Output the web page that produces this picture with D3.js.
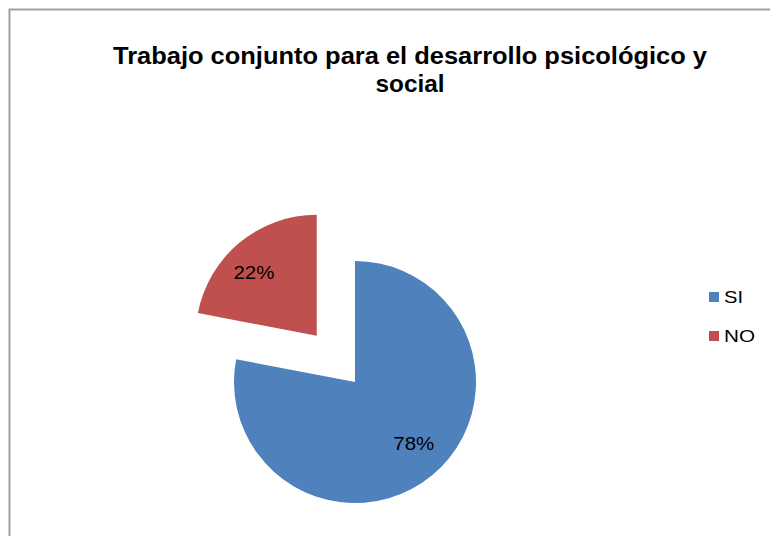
<!DOCTYPE html>
<html>
<head>
<meta charset="utf-8">
<script src="https://cdn.jsdelivr.net/npm/d3@7"></script>
<style>
  html, body { margin: 0; padding: 0; background: #fff; }
  svg { display: block; }
</style>
</head>
<body>
<svg id="chart" width="770" height="536"></svg>
<script>
const categories = ["SI", "NO"];
const values = [78, 22];
const labels = ["78%", "22%"];
const colors = ["#4F81BD", "#C0504D"];
const titleLines = ["Trabajo conjunto para el desarrollo psicológico y", "social"];

const svg = d3.select("#chart");
const font = "'Liberation Sans', Arial, sans-serif";

// chart border
svg.append("rect")
  .attr("x", 9.5).attr("y", 9.5)
  .attr("width", 800).attr("height", 600)
  .attr("fill", "none").attr("stroke", "#A0A0A0").attr("stroke-width", 2);

// title
const titleSpec = [
  { y: 64, w: 594 },
  { y: 92, w: 69 }
];
titleLines.forEach((line, i) => {
  svg.append("text")
    .attr("x", 410).attr("y", titleSpec[i].y)
    .attr("text-anchor", "middle")
    .attr("font-family", font).attr("font-weight", "bold").attr("font-size", 24)
    .attr("textLength", titleSpec[i].w).attr("lengthAdjust", "spacingAndGlyphs")
    .text(line);
});

// pie
const cx = 355, cy = 382, r = 121, explode = 60;
const pie = d3.pie().sort(null).value(d => d)(values);
const arc = d3.arc().innerRadius(0).outerRadius(r);
const labelArc = d3.arc().innerRadius(86).outerRadius(86);
const labelNudge = [[4, -5], [-8, 3]];

const g = svg.append("g").attr("transform", `translate(${cx},${cy})`);
pie.forEach((d, i) => {
  const mid = (d.startAngle + d.endAngle) / 2;
  const off = i === 1 ? explode : 0;
  const dx = Math.sin(mid) * off, dy = -Math.cos(mid) * off;
  const sg = g.append("g").attr("transform", `translate(${dx},${dy})`);
  sg.append("path").attr("d", arc(d)).attr("fill", colors[i]);
  const c = labelArc.centroid(d);
  sg.append("text")
    .attr("x", c[0] + labelNudge[i][0]).attr("y", c[1] + labelNudge[i][1])
    .attr("dy", "0.36em")
    .attr("text-anchor", "middle")
    .attr("font-family", font).attr("font-size", 18)
    .attr("textLength", 41).attr("lengthAdjust", "spacingAndGlyphs")
    .attr("fill", "#000")
    .text(labels[i]);
});

// legend
const legendW = [19, 31];
const legend = svg.append("g").attr("transform", "translate(709,292)");
categories.forEach((c, i) => {
  const lg = legend.append("g").attr("transform", `translate(0,${i * 39})`);
  lg.append("rect").attr("width", 10).attr("height", 10).attr("fill", colors[i]);
  lg.append("text").attr("x", 15).attr("y", 11)
    .attr("font-family", font).attr("font-size", 16.5).attr("fill", "#000")
    .attr("textLength", legendW[i]).attr("lengthAdjust", "spacingAndGlyphs")
    .text(c);
});
</script>
</body>
</html>
